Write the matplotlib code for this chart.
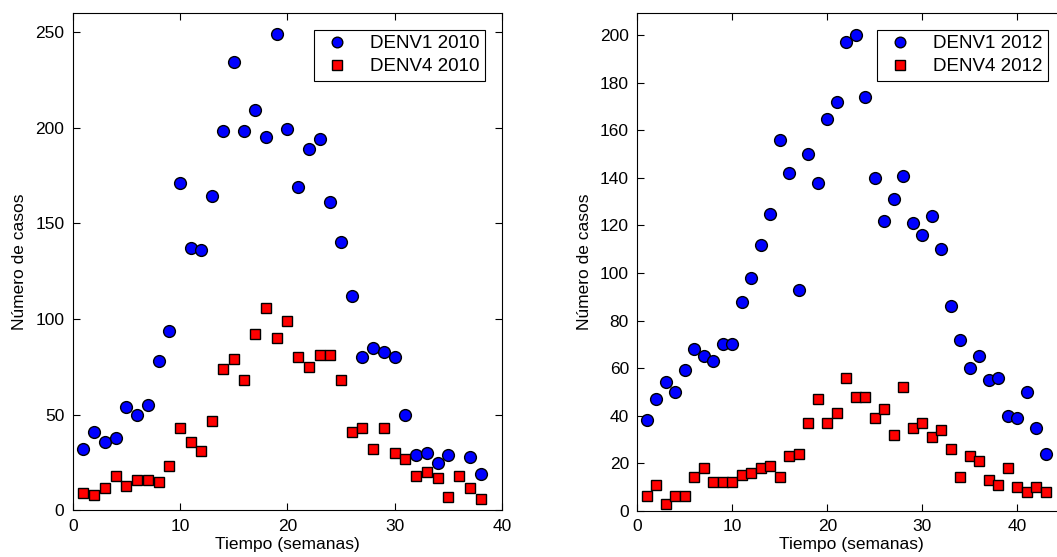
import numpy as np
import matplotlib
matplotlib.use('Agg')
import matplotlib.pyplot as plt

plt.rcParams['font.family'] = ['Liberation Sans', 'DejaVu Sans']
FONT_SIZE = 12.5
LEGEND_FONT_SIZE = 13.5

# 2010 epidemic weeks
weeks_2010 = np.arange(1, 39)
denv1_2010 = [32, 41, 36, 38, 54, 50, 55, 78, 94, 171,
              137, 136, 164, 198, 234, 198, 209, 195, 249, 199,
              169, 189, 194, 161, 140, 112, 80, 85, 83, 80,
              50, 29, 30, 25, 29, np.nan, 28, 19]
denv4_2010 = [9, 8, 12, 18, 13, 16, 16, 15, 23, 43,
              36, 31, 47, 74, 79, 68, 92, 106, 90, 99,
              80, 75, 81, 81, 68, 41, 43, 32, 43, 30,
              27, 18, 20, 17, 7, 18, 12, 6]

# 2012 epidemic weeks
weeks_2012 = np.arange(1, 44)
denv1_2012 = [38, 47, 54, 50, 59, 68, 65, 63, 70, 70,
              88, 98, 112, 125, 156, 142, 93, 150, 138, 165,
              172, 197, 200, 174, 140, 122, 131, 141, 121, 116,
              124, 110, 86, 72, 60, 65, 55, 56, 40, 39,
              50, 35, 24]
denv4_2012 = [6, 11, 3, 6, 6, 14, 18, 12, 12, 12,
              15, 16, 18, 19, 14, 23, 24, 37, 47, 37,
              41, 56, 48, 48, 39, 43, 32, 52, 35, 37,
              31, 34, 26, 14, 23, 21, 13, 11, 18, 10,
              8, 10, 8]


def panel(ax, weeks, d1, d4, year, ylim, yticks, xlim):
    ax.plot(weeks, d1, 'o', color='#0000ff', markeredgecolor='black',
            markersize=8.5, markeredgewidth=1.0, label='DENV1 %s' % year)
    ax.plot(weeks, d4, 's', color='#ff0000', markeredgecolor='black',
            markersize=7.5, markeredgewidth=1.0, label='DENV4 %s' % year)
    ax.set_xlim(xlim)
    ax.set_ylim(ylim)
    ax.set_xticks(np.arange(0, 41, 10))
    ax.set_yticks(yticks)
    ax.tick_params(direction='in', top=True, right=True, length=5,
                   labelsize=FONT_SIZE, width=0.8, pad=6)
    ax.set_xlabel('Tiempo (semanas)', fontsize=FONT_SIZE, labelpad=2)
    ax.set_ylabel('Número de casos', fontsize=FONT_SIZE, labelpad=6)
    for s in ax.spines.values():
        s.set_linewidth(0.8)
    leg = ax.legend(loc='upper right', fontsize=LEGEND_FONT_SIZE,
                    fancybox=False, framealpha=1, edgecolor='black',
                    borderpad=0.3, handlelength=1.9, handletextpad=0.8,
                    labelspacing=0.3, borderaxespad=0.9, markerscale=0.9)
    leg.get_frame().set_linewidth(0.8)


fig = plt.figure(figsize=(10.57, 5.57), dpi=100)
ax1 = fig.add_axes([0.0688, 0.0835, 0.4061, 0.8937])
ax2 = fig.add_axes([0.6029, 0.0831, 0.4045, 0.894])

panel(ax1, weeks_2010, denv1_2010, denv4_2010, 2010, (0, 260),
      np.arange(0, 251, 50), (0, 40))
panel(ax2, weeks_2012, denv1_2012, denv4_2012, 2012, (0, 209.5),
      np.arange(0, 201, 20), (0, 45))

fig.savefig('out.png', dpi=100)
